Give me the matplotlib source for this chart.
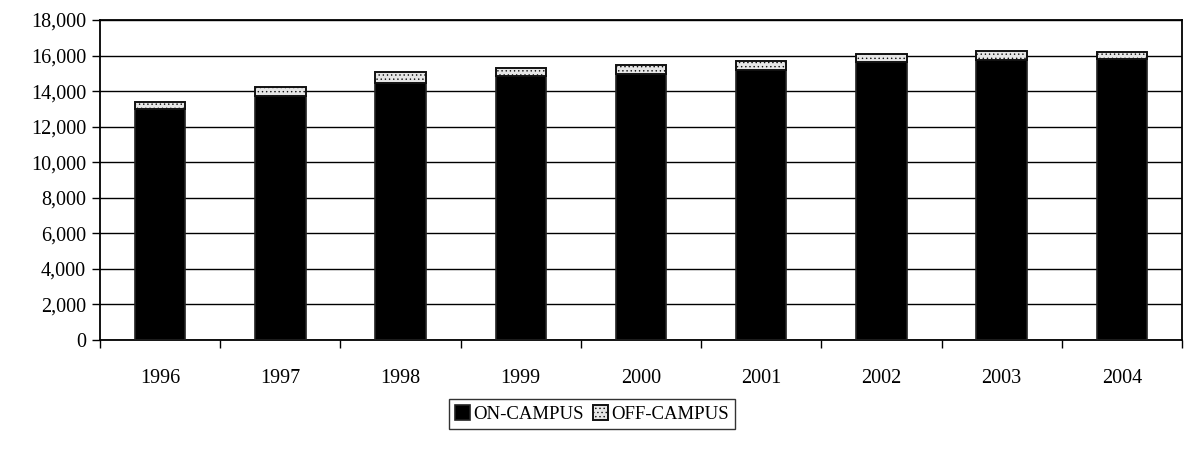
import matplotlib
matplotlib.use("Agg")
import matplotlib.pyplot as plt
from matplotlib.ticker import FuncFormatter, FixedLocator
import numpy as np

years = ["1996", "1997", "1998", "1999", "2000", "2001", "2002", "2003", "2004"]
on_campus = [12970, 13750, 14450, 14830, 14960, 15160, 15610, 15760, 15820]
off_campus = [410, 500, 610, 480, 520, 560, 450, 520, 370]
series_labels = ["ON-CAMPUS", "OFF-CAMPUS"]

plt.rcParams['font.family'] = ['Liberation Serif', 'DejaVu Serif']
plt.rcParams['hatch.color'] = '#c8c8c8'
plt.rcParams['hatch.linewidth'] = 0.5

W, H = 1190, 459
fig = plt.figure(figsize=(W / 100, H / 100), dpi=100)
ax = fig.add_axes([100 / W, 1 - 340 / H, (1182 - 100) / W, (340 - 20) / H])

x = np.arange(len(years))
bw = 0.42
ax.bar(x, on_campus, bw, color='black', edgecolor='#222222', linewidth=1.2,
       label=series_labels[0], zorder=3)
ax.bar(x, off_campus, bw, bottom=on_campus, color='#e6e6e6', edgecolor='#111111',
       linewidth=1.4, hatch='....', label=series_labels[1], zorder=3)

ax.set_xlim(-0.5, len(years) - 0.5)
ax.set_ylim(0, 18000)
ax.set_yticks(np.arange(0, 18001, 2000))
ax.yaxis.set_major_formatter(FuncFormatter(lambda v, p: f"{int(v):,}"))
ax.yaxis.grid(True, color='black', linewidth=1.0, zorder=0)
ax.set_axisbelow(True)

ax.set_xticks(x)
ax.set_xticklabels(years)
ax.xaxis.set_minor_locator(FixedLocator(np.arange(-0.5, len(years), 1.0)))
ax.tick_params(axis='x', which='major', length=0, pad=21, labelsize=14.5)
ax.tick_params(axis='x', which='minor', length=6, width=1, direction='out')
ax.tick_params(axis='y', length=6, width=1, direction='out', labelsize=14.5, pad=4)

for side in ['top', 'right', 'left', 'bottom']:
    ax.spines[side].set_color('black')
    ax.spines[side].set_linewidth(1.3)

leg = fig.legend(loc='center', bbox_to_anchor=(592 / W, 1 - 414 / H), ncol=2,
                 fontsize=13.5, frameon=True, fancybox=False, edgecolor='black',
                 handlelength=0.8, handleheight=0.8, handletextpad=0.15,
                 columnspacing=0.5, borderpad=0.35, borderaxespad=0)
leg.get_frame().set_linewidth(1.0)

fig.savefig("out.png", dpi=100)
